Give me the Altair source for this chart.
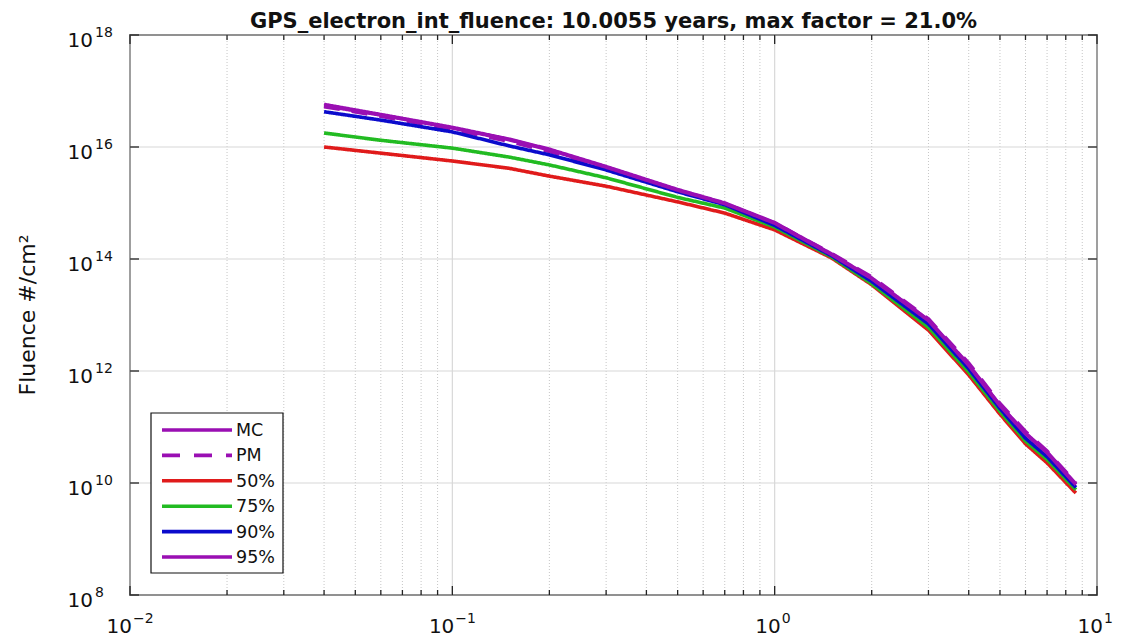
import altair as alt
import pandas as pd

# ---------------- data ----------------
energy = [0.04, 0.06, 0.1, 0.15, 0.2, 0.3, 0.5, 0.7, 1.0, 1.5, 2.0, 3.0, 4.0, 5.0, 6.0, 7.0, 8.6]
mc_log10 = [16.76, 16.58, 16.35, 16.14, 15.96, 15.65, 15.24, 15.00, 14.65, 14.09, 13.66, 12.91, 12.11, 11.39, 10.89, 10.55, 9.98]
pm_log10 = [16.72, 16.55, 16.31, 16.10, 15.92, 15.62, 15.22, 14.98, 14.64, 14.10, 13.68, 12.93, 12.14, 11.42, 10.92, 10.57, 10.00]
p50_log10 = [16.00, 15.89, 15.75, 15.62, 15.48, 15.30, 15.02, 14.82, 14.52, 14.02, 13.54, 12.73, 11.93, 11.23, 10.70, 10.36, 9.82]
p75_log10 = [16.25, 16.12, 15.98, 15.82, 15.68, 15.45, 15.10, 14.91, 14.57, 14.04, 13.56, 12.78, 11.98, 11.28, 10.75, 10.42, 9.88]
p90_log10 = [16.63, 16.48, 16.27, 16.02, 15.86, 15.59, 15.20, 14.97, 14.60, 14.06, 13.60, 12.84, 12.04, 11.33, 10.80, 10.47, 9.92]
p95_log10 = [16.74, 16.57, 16.34, 16.13, 15.95, 15.64, 15.23, 14.99, 14.64, 14.08, 13.65, 12.90, 12.10, 11.38, 10.88, 10.54, 9.97]

series_names = ["MC", "PM", "50%", "75%", "90%", "95%"]
series_logs = [mc_log10, pm_log10, p50_log10, p75_log10, p90_log10, p95_log10]

x_major = [0.01, 0.1, 1, 10]
x_major_exp = ["−2", "−1", "0", "1"]
minor_mult = [2, 3, 4, 5, 6, 7, 8, 9]
y_major = [1e8, 1e10, 1e12, 1e14, 1e16, 1e18]
y_major_exp = ["8", "10", "12", "14", "16", "18"]

title_text = "GPS_electron_int_fluence: 10.0055 years, max factor = 21.0%"
y_title = "Fluence #/cm²"

# ---------------- styles ----------------
PURPLE = "#9a0fb3"
colors = [PURPLE, PURPLE, "#e01b1b", "#22bb22", "#0b0bcc", PURPLE]
dashes = [[1, 0], [16, 12], [1, 0], [1, 0], [1, 0], [1, 0]]
FONT = "DejaVu Sans"
W, H = 967, 560

rows = []
for name, logs in zip(series_names, series_logs):
    for e, lv in zip(energy, logs):
        rows.append({"energy": e, "fluence": 10 ** lv, "series": name})
df = pd.DataFrame(rows)

x_minor = [m * d for d in x_major[:-1] for m in minor_mult]

xscale = alt.Scale(type="log", domain=[0.01, 10], nice=False)
yscale = alt.Scale(type="log", domain=[1e8, 1e18], nice=False)

xminor_df = pd.DataFrame({"x": x_minor})
xmajor_df = pd.DataFrame({"x": x_major, "e": x_major_exp})
ymajor_df = pd.DataFrame({"y": y_major, "e": y_major_exp})

X = lambda: alt.X("x:Q", scale=xscale, axis=None)
Y = lambda: alt.Y("y:Q", scale=yscale, axis=None)

grid_minor = alt.Chart(xminor_df).mark_rule(color="#c6c6c6", strokeDash=[1, 2], strokeWidth=1).encode(
    x=X(), y=alt.value(0), y2=alt.value(H))
grid_major_x = alt.Chart(xmajor_df).mark_rule(color="#d8d8d8", strokeWidth=1.2).encode(
    x=X(), y=alt.value(0), y2=alt.value(H))
grid_major_y = alt.Chart(ymajor_df).mark_rule(color="#d8d8d8", strokeWidth=1.2).encode(
    y=Y(), x=alt.value(0), x2=alt.value(W))

lines = alt.Chart(df).mark_line(strokeWidth=3.6, clip=True).encode(
    x=alt.X("energy:Q", scale=xscale, axis=None),
    y=alt.Y("fluence:Q", scale=yscale, axis=None),
    color=alt.Color("series:N", scale=alt.Scale(domain=series_names, range=colors), legend=None),
    strokeDash=alt.StrokeDash("series:N", scale=alt.Scale(domain=series_names, range=dashes), legend=None),
)

TICKC = "#222222"
ticks = []
for d, L in [(xmajor_df, 9), (xminor_df, 5)]:
    ticks.append(alt.Chart(d).mark_rule(color=TICKC, strokeWidth=1.3).encode(x=X(), y=alt.value(H), y2=alt.value(H - L)))
    ticks.append(alt.Chart(d).mark_rule(color=TICKC, strokeWidth=1.3).encode(x=X(), y=alt.value(0), y2=alt.value(L)))
ticks.append(alt.Chart(ymajor_df).mark_rule(color=TICKC, strokeWidth=1.3).encode(y=Y(), x=alt.value(0), x2=alt.value(9)))
ticks.append(alt.Chart(ymajor_df).mark_rule(color=TICKC, strokeWidth=1.3).encode(y=Y(), x=alt.value(W), x2=alt.value(W - 9)))

labels = []
# x tick labels: "10" plus superscript exponent
neg = xmajor_df[xmajor_df["x"] < 1]
pos = xmajor_df[xmajor_df["x"] >= 1]
for d, off in [(neg, 2), (pos, 6)]:
    labels.append(alt.Chart(d).mark_text(font=FONT, fontSize=20, align="right", baseline="alphabetic", dx=off, color="#111").encode(
        x=X(), y=alt.value(H + 38), text=alt.value("10")))
    labels.append(alt.Chart(d).mark_text(font=FONT, fontSize=14, align="left", baseline="alphabetic", dx=off + 1, color="#111").encode(
        x=X(), y=alt.value(H + 28), text="e:N"))
# y tick labels
labels.append(alt.Chart(ymajor_df).mark_text(font=FONT, fontSize=20, align="right", baseline="alphabetic", dy=12, color="#111").encode(
    y=Y(), x=alt.value(-37), text=alt.value("10")))
labels.append(alt.Chart(ymajor_df).mark_text(font=FONT, fontSize=14, align="left", baseline="alphabetic", dy=2, color="#111").encode(
    y=Y(), x=alt.value(-35), text="e:N"))

title = alt.Chart(pd.DataFrame({"t": [title_text]})).mark_text(
    font=FONT, fontSize=21, fontWeight="bold", align="center", baseline="alphabetic", color="#111").encode(
    x=alt.value(W / 2), y=alt.value(-7), text="t:N")
ytitle = alt.Chart(pd.DataFrame({"t": [y_title]})).mark_text(
    font=FONT, fontSize=22, angle=270, align="center", baseline="middle", color="#111").encode(
    x=alt.value(-102), y=alt.value(H / 2), text="t:N")

# legend
leg_box = alt.Chart(pd.DataFrame({"a": [0]})).mark_rect(fill="white", stroke="#111", strokeWidth=1.2).encode(
    x=alt.value(21), x2=alt.value(153), y=alt.value(378), y2=alt.value(538))
legend_layers = [leg_box]
for i, name in enumerate(series_names):
    ry = 395 + i * 25.4
    legend_layers.append(alt.Chart(pd.DataFrame({"s": [name]})).mark_rule(
        strokeWidth=3.6, color=colors[i], strokeDash=[18, 14] if name == "PM" else [1, 0]).encode(
        x=alt.value(32), x2=alt.value(102), y=alt.value(ry)))
    legend_layers.append(alt.Chart(pd.DataFrame({"s": [name]})).mark_text(
        font=FONT, fontSize=17.5, align="left", baseline="middle", color="#111").encode(
        x=alt.value(106), y=alt.value(ry + 1), text="s:N"))

chart = alt.layer(
    grid_minor, grid_major_x, grid_major_y, lines, *ticks, *legend_layers, *labels, title, ytitle
).properties(
    width=W, height=H,
    autosize=alt.AutoSizeParams(type="none"),
    padding={"left": 130, "top": 35, "right": 24, "bottom": 47},
).configure_view(stroke="#111", strokeWidth=1.5)

chart.save("out.html", embed_options={"renderer": "svg", "actions": False})
